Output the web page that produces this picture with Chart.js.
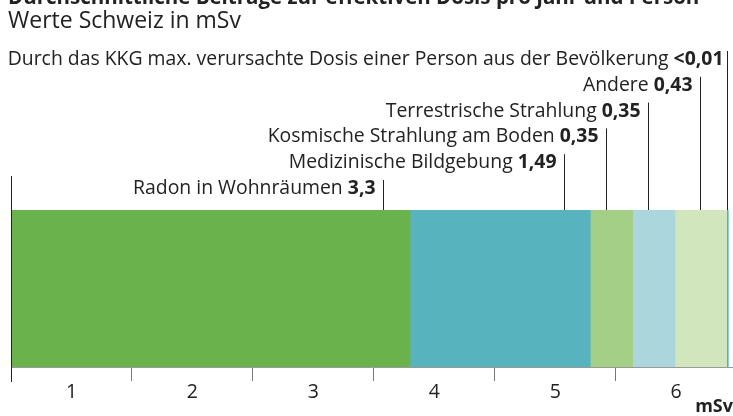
<!DOCTYPE html>
<html>
<head>
<meta charset="utf-8">
<script src="https://cdn.jsdelivr.net/npm/chart.js@4/dist/chart.umd.min.js"></script>
<style>
  body { margin: 0; background: #fff; }
  #wrap { position: relative; width: 733px; height: 416px; overflow: hidden; font-family: "Open Sans", sans-serif; color: #222; }
  #title { position: absolute; left: 8px; top: -13px; font-size: 20.5px; line-height: 18px; font-weight: bold; white-space: nowrap; }
  #subtitle { position: absolute; left: 8px; top: 9.5px; font-size: 23px; line-height: 18px; white-space: nowrap; }
  canvas { position: absolute; left: 0; top: 0; }
</style>
</head>
<body>
<div id="wrap">
  <canvas id="doseChart" width="733" height="416"></canvas>
  <div id="title">Durchschnittliche Beiträge zur effektiven Dosis pro Jahr und Person</div>
  <div id="subtitle">Werte Schweiz in mSv</div>
</div>
<script>
const sources = ['Radon in Wohnräumen', 'Medizinische Bildgebung', 'Kosmische Strahlung am Boden',
    'Terrestrische Strahlung', 'Andere', 'Durch das KKG max. verursachte Dosis einer Person aus der Bevölkerung'];
const doses = [3.3, 1.49, 0.35, 0.35, 0.43, 0.01];
const doseLabels = ['3,3', '1,49', '0,35', '0,35', '0,43', '<0,01'];
const colors = ['#6ab24c', '#57b4be', '#a4cf87', '#aad6dc', '#d1e6bc', '#1ba3a5'];
const tickValues = [0, 0.5, 1, 1.5, 2, 2.5, 3, 3.5, 4, 4.5, 5, 5.5];

const FONT = '"Open Sans", sans-serif';

// leader lines + labels above the bar
const labelPlugin = {
    id: 'doseLabels',
    afterDatasetsDraw(chart) {
        const { ctx, chartArea } = chart;
        const x = chart.scales.x;
        ctx.save();
        ctx.strokeStyle = '#222';
        ctx.lineWidth = 1;

        // left border line
        ctx.beginPath();
        ctx.moveTo(chartArea.left + 0.5, chartArea.top - 34);
        ctx.lineTo(chartArea.left + 0.5, chartArea.bottom + 15);
        ctx.stroke();

        let start = 0;
        doses.forEach((d, i) => {
            const end = start + d;
            const lx = Math.round(x.getPixelForValue(Math.max(start, end - 0.22))) + 0.5;
            const base = chartArea.top - 16 - i * 25.8;

            ctx.beginPath();
            ctx.moveTo(lx, base - 14);
            ctx.lineTo(lx, chartArea.top);
            ctx.stroke();

            ctx.fillStyle = '#222';
            ctx.textBaseline = 'alphabetic';
            ctx.textAlign = 'right';
            ctx.font = 'bold 19.4px ' + FONT;
            const right = lx - (i === doses.length - 1 ? 4 : 8);
            ctx.fillText(doseLabels[i], right, base);
            const w = ctx.measureText(doseLabels[i]).width;
            ctx.font = '19.4px ' + FONT;
            ctx.fillText(sources[i] + ' ', right - w, base);
            start = end;
        });
        ctx.restore();
    }
};

new Chart(document.getElementById('doseChart'), {
    type: 'bar',
    data: {
        labels: ['Schweiz'],
        datasets: sources.map((s, i) => ({
            label: s,
            data: [doses[i]],
            backgroundColor: colors[i],
            borderWidth: 0,
            barPercentage: 1,
            categoryPercentage: 1
        }))
    },
    options: {
        indexAxis: 'y',
        responsive: false,
        devicePixelRatio: 1,
        animation: false,
        layout: { padding: { top: 210, left: 11, right: 0, bottom: 0 } },
        plugins: {
            legend: { display: false },
            tooltip: { enabled: false }
        },
        scales: {
            x: {
                stacked: true,
                min: 0,
                max: 5.97,
                afterBuildTicks: scale => { scale.ticks = tickValues.map(v => ({ value: v })); },
                afterFit: scale => { scale.height = 49; },
                border: { display: true, color: '#999', width: 1 },
                grid: {
                    drawOnChartArea: false,
                    drawTicks: true,
                    tickLength: 14,
                    color: c => c.tick && c.tick.value % 1 !== 0 ? 'rgba(0,0,0,0)' : (c.tick && c.tick.value === 0 ? '#222' : '#777')
                },
                ticks: {
                    autoSkip: false,
                    maxRotation: 0,
                    padding: 0,
                    color: '#222',
                    font: { family: FONT, size: 19.5 },
                    callback: v => v % 1 !== 0 ? String(Math.ceil(v)) : ''
                },
                title: {
                    display: true,
                    text: 'mSv',
                    align: 'end',
                    color: '#222',
                    font: { family: FONT, size: 18, weight: 'bold' },
                    padding: { top: 0, bottom: -2 }
                }
            },
            y: {
                stacked: true,
                display: false
            }
        }
    },
    plugins: [labelPlugin]
});
</script>
</body>
</html>
